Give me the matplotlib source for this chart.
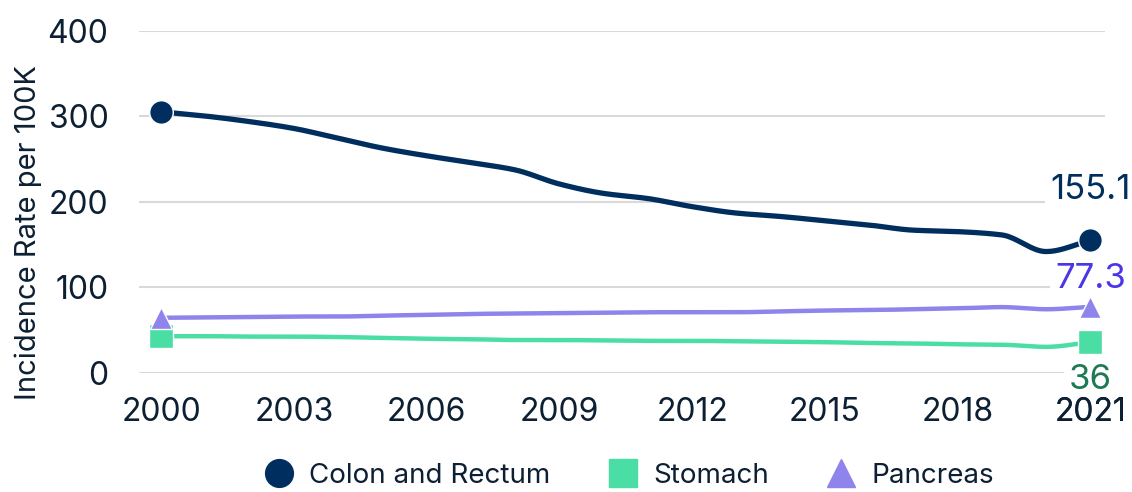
import numpy as np
import matplotlib.pyplot as plt
from matplotlib.lines import Line2D

plt.rcParams['font.family'] = ['Inter', 'DejaVu Sans']

years = np.arange(2000, 2022)
colon = [305.5, 300.5, 294, 286, 274.5, 263, 254, 246, 237.5, 221, 210,
         204, 194.5, 187, 183, 178, 173, 167, 165.3, 161.4, 142, 155.1]
stomach = [43, 43, 42.5, 42.5, 42, 41, 40, 39.5, 38.5, 38.5, 38,
           37.5, 37.5, 37, 36.5, 36, 35, 34.5, 33.5, 33, 30.5, 36]
pancreas = [64.5, 65, 65.5, 66, 66, 67, 68, 69, 69.5, 70, 70.5,
            71, 71, 71, 72, 73, 73.5, 74.5, 75.5, 77, 74.5, 77.3]

names = ['Colon and Rectum', 'Stomach', 'Pancreas']
colors = ['#002f5f', '#4adea5', '#8f84eb']
markers = ['o', 's', '^']
label_colors = ['#002f5f', '#1d7a52', '#4a35e8']
text_color = '#0d1f33'
yticks = [0, 100, 200, 300, 400]


def smooth(x, y, n=20):
    # monotone cubic (Fritsch-Carlson), only for drawing the curve
    x = np.asarray(x, float)
    y = np.asarray(y, float)
    h = np.diff(x)
    d = np.diff(y) / h
    m = np.zeros_like(y)
    m[0], m[-1] = d[0], d[-1]
    for i in range(1, len(y) - 1):
        if d[i - 1] * d[i] > 0:
            m[i] = 2 / (1 / d[i - 1] + 1 / d[i])
    xs, ys = [], []
    for i in range(len(x) - 1):
        t = np.linspace(0, 1, n, endpoint=False)
        h00 = 2 * t**3 - 3 * t**2 + 1
        h10 = t**3 - 2 * t**2 + t
        h01 = -2 * t**3 + 3 * t**2
        h11 = t**3 - t**2
        xs.append(x[i] + t * h[i])
        ys.append(h00 * y[i] + h10 * h[i] * m[i] + h01 * y[i + 1] + h11 * h[i] * m[i + 1])
    xs.append([x[-1]])
    ys.append([y[-1]])
    return np.concatenate(xs), np.concatenate(ys)


fig = plt.figure(figsize=(11.32, 4.92), dpi=100)
ax = fig.add_axes([0.1228, 0.242, 0.853, 0.695])
ax.set_axisbelow(False)

# gridlines drawn by hand so the value labels can sit on top of them
for yv in yticks:
    ax.axhline(yv, color='#d9d9d9', lw=1.5, zorder=0.5)

series = [colon, stomach, pancreas]
widths = [3.8, 3.2, 3.2]
msizes = [17, 17, 16]
for vals, c, mk, lw, ms in zip(series, colors, markers, widths, msizes):
    sx, sy = smooth(years, vals)
    ax.plot(sx, sy, color=c, lw=lw, zorder=3, solid_capstyle='butt')
    ax.plot([years[0], years[-1]], [vals[0], vals[-1]], ls='none', marker=mk,
            ms=ms, color=c, mec='white', mew=1, zorder=4)

# end labels
offsets = [(0, 36), (0, -27), (0, 20)]
for vals, lc, off in zip(series, label_colors, offsets):
    ax.annotate(f'{vals[-1]:g}', (years[-1], vals[-1]), xytext=off,
                textcoords='offset points', ha='center', va='center',
                fontsize=25, color=lc, zorder=1,
                bbox=dict(boxstyle='square,pad=0.15', fc='white', ec='none'))

ax.set_xlim(1999.5, 2021.32)
ax.set_ylim(0, 400)
ax.set_xticks(np.arange(2000, 2022, 3).tolist() + [2021])
ax.set_yticks(yticks)
for s in ax.spines.values():
    s.set_visible(False)
ax.tick_params(axis='both', length=0, labelsize=23, colors=text_color)
ax.tick_params(axis='y', pad=22)
ax.tick_params(axis='x', pad=17)
ax.set_ylabel('Incidence Rate per 100K', fontsize=21, color=text_color)
ax.yaxis.set_label_coords(-0.1, 0.41)

handles = [Line2D([], [], ls='none', marker=mk, ms=ms, color=c)
           for mk, c, ms in zip(markers, colors, [20, 20, 20])]
fig.legend(handles, names, loc='center', bbox_to_anchor=(0.55, 0.033), ncol=3,
           frameon=False, fontsize=20, handletextpad=0.1, columnspacing=1.6,
           labelcolor=text_color)

fig.savefig('out.png', dpi=100)
